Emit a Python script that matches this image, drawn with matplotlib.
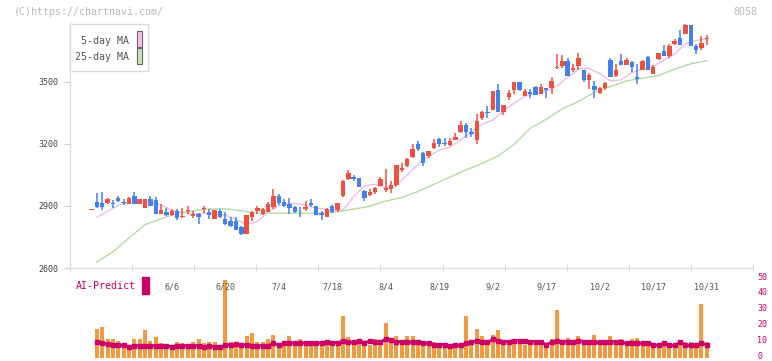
import numpy as np
import matplotlib
matplotlib.use('Agg')
import matplotlib.pyplot as plt
from matplotlib.patches import Rectangle

# daily candles, index 0 = 5/16 ... index 115 = 10/31
opens = [2880, 2921, 2915, 2915, 2913, 2937, 2921, 2911, 2947, 2911,
         2892, 2934, 2928, 2863, 2873, 2857, 2876, 2847, 2876, 2853,
         2860, 2887, 2871, 2839, 2876, 2836, 2827, 2827, 2797, 2765,
         2848, 2877, 2861, 2871, 2897, 2948, 2919, 2910, 2894, 2877,
         2887, 2913, 2900, 2865, 2848, 2900, 2881, 2948, 3032, 3042,
         3036, 2971, 2955, 2968, 2997, 2977, 2984, 3003, 3073, 3095,
         3137, 3202, 3157, 3144, 3182, 3224, 3205, 3195, 3221, 3260,
         3292, 3257, 3221, 3324, 3355, 3366, 3463, 3356, 3427, 3463,
         3499, 3434, 3450, 3476, 3443, 3472, 3470, 3566, 3579, 3602,
         3560, 3579, 3557, 3508, 3482, 3447, 3470, 3608, 3528, 3602,
         3582, 3595, 3524, 3560, 3621, 3540, 3611, 3650, 3627, 3683,
         3712, 3734, 3776, 3673, 3666, 3710]
highs = [2882, 2963, 2966, 2937, 2931, 2950, 2934, 2944, 2969, 2934,
         2936, 2950, 2944, 2908, 2889, 2886, 2886, 2892, 2899, 2876,
         2866, 2902, 2884, 2881, 2886, 2870, 2847, 2847, 2805, 2858,
         2877, 2900, 2890, 2919, 2984, 2958, 2932, 2939, 2900, 2894,
         2926, 2932, 2900, 2874, 2890, 2903, 2916, 3026, 3074, 3049,
         3036, 2977, 2981, 2994, 3039, 3080, 3020, 3097, 3108, 3132,
         3199, 3215, 3160, 3166, 3224, 3231, 3231, 3228, 3253, 3311,
         3302, 3279, 3347, 3360, 3385, 3457, 3492, 3389, 3463, 3499,
         3499, 3466, 3466, 3479, 3492, 3472, 3524, 3637, 3631, 3615,
         3586, 3640, 3557, 3544, 3505, 3476, 3502, 3615, 3589, 3637,
         3615, 3602, 3586, 3605, 3627, 3582, 3640, 3679, 3683, 3708,
         3750, 3782, 3776, 3683, 3724, 3727]
lows = [2880, 2889, 2879, 2908, 2892, 2921, 2905, 2908, 2908, 2908,
        2889, 2899, 2860, 2863, 2850, 2853, 2831, 2843, 2863, 2840,
        2814, 2865, 2837, 2839, 2840, 2808, 2798, 2782, 2760, 2765,
        2829, 2861, 2858, 2871, 2887, 2903, 2894, 2861, 2865, 2848,
        2874, 2897, 2858, 2832, 2845, 2865, 2871, 2945, 3026, 3020,
        2994, 2926, 2948, 2958, 2997, 2968, 2964, 2994, 3063, 3089,
        3134, 3166, 3095, 3131, 3176, 3186, 3192, 3189, 3218, 3253,
        3231, 3234, 3202, 3318, 3327, 3366, 3356, 3340, 3414, 3441,
        3457, 3431, 3424, 3437, 3441, 3424, 3444, 3563, 3566, 3531,
        3550, 3557, 3502, 3466, 3424, 3444, 3460, 3524, 3524, 3582,
        3582, 3550, 3492, 3560, 3557, 3540, 3605, 3627, 3618, 3679,
        3679, 3731, 3676, 3637, 3653, 3679]
closes = [2882, 2895, 2895, 2934, 2908, 2924, 2915, 2937, 2911, 2934,
          2934, 2902, 2863, 2882, 2857, 2876, 2843, 2853, 2882, 2860,
          2845, 2892, 2855, 2881, 2848, 2811, 2803, 2785, 2765, 2855,
          2871, 2890, 2884, 2910, 2948, 2916, 2900, 2890, 2871, 2874,
          2897, 2906, 2858, 2858, 2884, 2871, 2916, 3022, 3058, 3032,
          2994, 2939, 2968, 2987, 3029, 2987, 3000, 3097, 3085, 3127,
          3176, 3176, 3108, 3166, 3205, 3202, 3199, 3215, 3234, 3292,
          3260, 3250, 3311, 3353, 3352, 3457, 3356, 3389, 3447, 3499,
          3463, 3457, 3441, 3437, 3476, 3460, 3505, 3573, 3602, 3531,
          3566, 3615, 3511, 3534, 3463, 3470, 3495, 3524, 3560, 3582,
          3608, 3573, 3515, 3602, 3560, 3573, 3640, 3627, 3673, 3699,
          3679, 3776, 3676, 3656, 3686, 3713]

# volume bars and AI-Predict line, index 1 ... 115
volume = [18.0, 19.3, 12.3, 11.7, 11.0, 7.9, 7.3, 12.3, 12.3, 17.4,
          11.0, 13.0, 9.2, 7.9, 7.3, 9.8, 9.2, 7.9, 9.8, 12.3,
          9.2, 9.8, 9.8, 7.3, 49.4, 9.8, 9.8, 7.9, 13.6, 15.5,
          10.4, 9.8, 12.3, 14.8, 7.9, 7.3, 14.2, 9.8, 12.3, 9.8,
          9.2, 9.8, 8.5, 10.4, 9.8, 9.8, 26.8, 13.0, 9.8, 11.0,
          9.2, 8.5, 11.7, 9.8, 21.8, 10.0, 13.6, 10.4, 13.6, 13.6,
          10.4, 10.4, 11.0, 9.8, 9.2, 7.9, 7.9, 7.9, 7.3, 26.2,
          11.0, 18.6, 13.6, 10.4, 14.8, 17.4, 11.0, 11.0, 9.8, 11.0,
          8.5, 8.5, 9.8, 9.8, 7.9, 12.3, 30.0, 11.0, 12.9, 10.4,
          13.6, 11.0, 9.8, 14.8, 11.0, 10.4, 14.2, 11.0, 11.7, 9.8,
          12.3, 12.9, 9.8, 9.8, 6.6, 7.9, 9.8, 8.5, 8.5, 10.4,
          9.8, 9.8, 7.3, 33.8, 10.4]
ai_predict = [10.2, 9.2, 8.7, 7.9, 8.5, 7.9, 7.1, 7.7, 7.7, 7.7,
              7.7, 7.7, 7.7, 7.7, 7.1, 7.7, 7.7, 7.7, 7.7, 7.7,
              7.1, 7.7, 7.1, 7.1, 7.9, 8.5, 8.7, 8.3, 8.3, 7.7,
              7.7, 7.7, 7.7, 9.2, 8.3, 9.2, 9.7, 9.2, 9.7, 9.2,
              9.7, 9.7, 9.2, 10.1, 9.7, 9.7, 10.6, 10.2, 9.8, 10.6,
              9.7, 10.6, 9.8, 9.8, 12.1, 11.3, 10.1, 10.4, 10.4, 9.8,
              9.8, 9.2, 9.2, 8.5, 8.5, 8.5, 7.3, 7.9, 7.9, 9.2,
              9.8, 11.0, 10.4, 9.8, 11.7, 11.0, 10.4, 10.4, 11.0, 11.0,
              11.0, 10.4, 10.4, 9.8, 8.5, 9.8, 11.0, 10.4, 10.4, 10.4,
              11.0, 10.4, 9.8, 9.8, 9.8, 10.4, 10.4, 10.4, 9.8, 9.2,
              9.2, 9.2, 9.2, 9.2, 8.5, 7.9, 9.2, 7.9, 7.9, 9.8,
              7.9, 7.9, 7.9, 9.2, 8.5]

# moving averages
ma5_idx = list(range(1, 116, 2))
ma5 = [2845, 2875, 2903, 2918, 2926, 2918, 2905, 2880, 2868, 2861,
       2864, 2865, 2856, 2835, 2810, 2826, 2868, 2902, 2912, 2910,
       2897, 2886, 2876, 2880, 2945, 2998, 3005, 2986, 3002, 3050,
       3100, 3140, 3170, 3185, 3220, 3258, 3295, 3315, 3360, 3398,
       3430, 3443, 3456, 3480, 3522, 3562, 3566, 3540, 3505, 3510,
       3545, 3563, 3575, 3605, 3635, 3685, 3700, 3710]
ma25_idx = list(range(1, 116, 3))
ma25 = [2630, 2678, 2745, 2810, 2838, 2866, 2877, 2886, 2886, 2877,
        2865, 2865, 2865, 2865, 2865, 2872, 2885, 2899, 2924, 2941,
        2970, 3005, 3040, 3074, 3106, 3142, 3198, 3275, 3320, 3370,
        3405, 3450, 3478, 3505, 3518, 3531, 3562, 3588, 3602]

date_idx = [15, 25, 35, 45, 55, 65, 75, 85, 95, 105, 115]
date_labels = ['6/6', '6/20', '7/4', '7/18', '8/4', '8/19', '9/2', '9/17',
               '10/2', '10/17', '10/31']
ai_ticks = [0, 10, 20, 30, 40, 50]

RED = '#f0503e'
BLUE = '#4181ee'
ORANGE = '#f29a42'
MAGENTA = '#cc0066'
PINK = '#ebbdec'
GREEN = '#b5dca5'
MONO = 'DejaVu Sans Mono'

W, H = 772, 361
fig = plt.figure(figsize=(W / 100, H / 100), dpi=100)


def fx(x):
    return x / W


def fy(y):
    return 1 - y / H


xmin, xmax = -4.02, 123.64

# price panel
ax = fig.add_axes([fx(70), fy(268), fx(753) - fx(70), fy(22) - fy(268)])
idx = np.arange(len(opens))
o = np.array(opens)
c = np.array(closes)
colors = np.where(c >= o, RED, BLUE)
ax.vlines(idx, lows, highs, colors=colors, lw=1.1, zorder=2)
ax.bar(idx, np.maximum(np.abs(c - o), 4), bottom=np.minimum(o, c), width=0.82,
       color=colors, linewidth=0, zorder=3)
ax.plot(ma5_idx, ma5, color=PINK, lw=1.0, zorder=1)
ax.plot(ma25_idx, ma25, color=GREEN, lw=1.0, zorder=1)

ax.set_xlim(xmin, xmax)
ax.set_ylim(2600, 3790)
ax.set_yticks([2600, 2900, 3200, 3500])
ax.set_xticks(np.linspace(xmin, xmax, 12))
ax.set_xticklabels([])
for s in ['top', 'right']:
    ax.spines[s].set_visible(False)
for s in ['left', 'bottom']:
    ax.spines[s].set_color('#dddddd')
    ax.spines[s].set_linewidth(1.0)
ax.tick_params(axis='y', length=4, color='#cccccc', labelsize=6,
               labelcolor='#444444', pad=4)
ax.tick_params(axis='x', length=6, direction='inout', color='#dddddd')
for t in ax.get_yticklabels():
    t.set_family(MONO)

# volume / AI-Predict panel
ax2 = fig.add_axes([fx(70), fy(358), fx(753) - fx(70), fy(278.8) - fy(358)])
ax2.bar(idx[1:], volume, width=0.75, color=ORANGE, linewidth=0)
ax2.plot(idx[1:], ai_predict, color=MAGENTA, lw=2.0, marker='s', ms=2.6)
ax2.set_xlim(xmin, xmax)
ax2.set_ylim(0, 50)
ax2.set_xticks([])
ax2.set_yticks([])
for s in ax2.spines.values():
    s.set_visible(False)
for v in ai_ticks:
    ax2.text(124.4, v + 1.1, str(v), ha='left', va='center', fontsize=6,
             color=MAGENTA, family=MONO, clip_on=False)
for i, lab in zip(date_idx, date_labels):
    ax2.text(i, 45, lab, ha='center', va='center', fontsize=6, color='#555555',
             family=MONO)

# texts and legend
fig.text(fx(14), fy(12), '(C)https://chartnavi.com/', fontsize=7.2,
         color='#bbbbbb', va='center', family=MONO)
fig.text(fx(757), fy(12), '8058', fontsize=7.2, color='#bbbbbb', va='center',
         ha='right', family=MONO)
fig.text(fx(76), fy(286), 'AI-Predict', fontsize=7.2, color=MAGENTA,
         va='center', family=MONO)
fig.patches.append(Rectangle((fx(142), fy(294)), fx(7), 17 / H, color=MAGENTA,
                             transform=fig.transFigure, figure=fig))

fig.patches.append(Rectangle((fx(70), fy(71)), fx(78), 47 / H, fc='white',
                             ec='#dddddd', lw=1.0, transform=fig.transFigure,
                             figure=fig, zorder=5))
fig.patches.append(Rectangle((fx(136.5), fy(46.5)), fx(5.5), 15 / H, fc='#f2c2f2',
                             ec='#666666', lw=0.8, transform=fig.transFigure,
                             figure=fig, zorder=6))
fig.patches.append(Rectangle((fx(136.5), fy(63.5)), fx(5.5), 15 / H, fc='#c6e6b6',
                             ec='#666666', lw=0.8, transform=fig.transFigure,
                             figure=fig, zorder=6))
fig.text(fx(129), fy(41), '5-day MA', fontsize=7.2, color='#555555', ha='right',
         va='center', family=MONO, zorder=7)
fig.text(fx(129), fy(57), '25-day MA', fontsize=7.2, color='#555555', ha='right',
         va='center', family=MONO, zorder=7)

fig.savefig('out.png', dpi=100)
